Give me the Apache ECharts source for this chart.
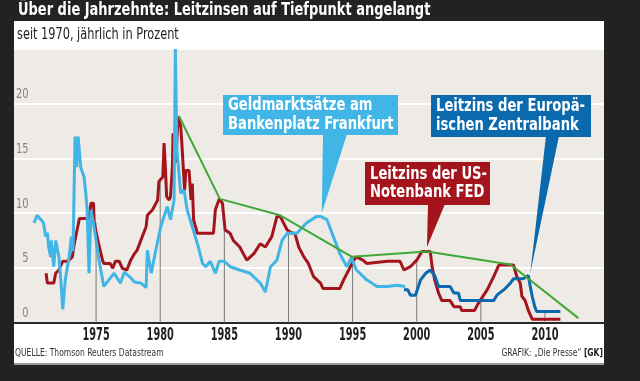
<!DOCTYPE html>
<html><head><meta charset="utf-8">
<script src="https://cdn.jsdelivr.net/npm/echarts@6/dist/echarts.min.js"></script>
<style>html,body{margin:0;padding:0;background:#222;}#c{width:640px;height:381px;}</style>
</head><body><div id="c"></div>
<script>
// ---- data ----
const xTicks = [1975, 1980, 1985, 1990, 1995, 2000, 2005, 2010];
const yTicks = [0, 5, 10, 15, 20];
const fedUS = [[1971.1,4.5],[1971.2,3.6],[1971.7,3.6],[1971.85,4.5],[1972.1,4.8],[1972.4,5.6],[1972.8,5.6],[1973.15,6.0],[1973.3,7.2],[1973.7,9.5],[1974.45,9.5],[1974.6,10.9],[1974.8,10.9],[1974.85,9.1],[1975.0,9.1],[1975.2,7.2],[1975.5,5.7],[1975.6,5.4],[1976.1,5.4],[1976.3,4.95],[1976.5,5.6],[1976.8,5.6],[1977.05,4.95],[1977.4,4.8],[1977.55,4.8],[1977.7,5.7],[1978.0,6.3],[1978.2,6.6],[1978.6,7.85],[1978.9,8.75],[1979.0,9.8],[1979.4,10.3],[1979.8,11.2],[1979.9,12.9],[1980.2,13.3],[1980.3,16.4],[1980.4,14.2],[1980.5,11.5],[1980.7,11.2],[1980.8,11.5],[1980.95,14.2],[1981.0,17.3],[1981.2,14.6],[1981.4,18.8],[1981.6,17.9],[1981.7,16.1],[1981.9,12.1],[1982.0,13.9],[1982.25,13.9],[1982.4,11.2],[1982.5,12.7],[1982.6,9.4],[1982.9,8.15],[1984.15,8.15],[1984.3,10.3],[1984.6,11.3],[1984.85,10.9],[1985.06,8.45],[1985.45,8.15],[1985.7,7.5],[1986.2,6.9],[1986.75,5.7],[1987.3,6.3],[1987.8,7.2],[1988.2,6.9],[1988.7,7.85],[1989.1,9.7],[1989.35,9.7],[1989.9,8.45],[1990.3,8.15],[1990.5,8.15],[1990.8,6.9],[1991.2,6.0],[1991.55,5.4],[1991.95,4.2],[1992.5,3.6],[1992.7,3.1],[1994.0,3.1],[1994.3,3.9],[1994.7,4.8],[1995.1,5.7],[1995.3,6.0],[1995.8,5.7],[1996.1,5.4],[1997.7,5.6],[1998.7,5.6],[1999.0,4.8],[1999.5,5.1],[2000.0,5.7],[2000.4,6.5],[2001.05,6.5],[2001.2,5.1],[2001.4,3.9],[2001.7,2.7],[2001.95,2.0],[2002.6,2.0],[2002.9,1.45],[2003.4,1.45],[2003.5,1.1],[2004.5,1.1],[2004.8,1.75],[2005.5,3.0],[2006.0,4.2],[2006.4,5.25],[2007.55,5.25],[2007.8,4.2],[2008.07,3.6],[2008.2,2.4],[2008.45,2.0],[2008.7,1.1],[2009.0,0.3],[2011.2,0.3]];
const frankfurt = [[1970.16,9.1],[1970.4,9.8],[1970.7,9.4],[1970.9,9.1],[1971.07,7.85],[1971.2,8.2],[1971.3,6.9],[1971.46,6.0],[1971.5,7.5],[1971.7,5.1],[1971.85,7.5],[1972.1,6.0],[1972.25,3.9],[1972.4,1.2],[1972.6,3.9],[1972.9,6.0],[1973.07,7.85],[1973.2,6.5],[1973.36,17.0],[1973.5,14.2],[1973.6,17.0],[1973.8,14.2],[1974.06,13.3],[1974.2,11.8],[1974.3,10.3],[1974.45,4.5],[1974.6,10.3],[1974.84,8.75],[1975.23,5.7],[1975.6,3.3],[1976.0,3.9],[1976.4,4.5],[1976.9,3.6],[1977.2,4.6],[1977.6,4.2],[1978.0,3.7],[1978.5,3.6],[1978.9,3.2],[1979.0,6.6],[1979.3,4.5],[1979.65,6.6],[1980.04,8.75],[1980.55,10.6],[1980.8,9.4],[1981.08,11.2],[1981.18,25],[1981.24,25],[1981.3,15.8],[1981.6,11.8],[1981.86,12.1],[1982.1,10.3],[1982.5,8.75],[1982.9,7.2],[1983.3,5.4],[1983.55,5.1],[1983.9,5.6],[1984.3,4.5],[1984.6,5.6],[1985.0,5.6],[1985.45,5.1],[1986.2,4.8],[1987.0,4.5],[1987.8,3.6],[1988.2,2.8],[1988.6,5.1],[1989.1,5.7],[1989.5,7.5],[1989.9,8.15],[1990.65,8.15],[1991.4,9.1],[1992.2,9.7],[1992.5,9.7],[1993.0,9.4],[1993.5,7.85],[1994.0,6.3],[1994.55,5.1],[1994.9,5.9],[1995.3,4.8],[1996.1,3.9],[1996.9,3.3],[1997.7,3.3],[1998.45,3.4],[1999.1,3.3]];
const ecb = [[1999.0,3.0],[1999.3,3.0],[1999.5,2.5],[1999.9,2.5],[2000.3,3.9],[2000.7,4.5],[2001.05,4.8],[2001.4,4.3],[2001.7,3.3],[2002.6,3.3],[2002.9,2.7],[2003.25,2.7],[2003.4,2.0],[2006.0,2.0],[2006.25,2.5],[2006.8,3.0],[2007.3,3.6],[2007.55,4.0],[2008.3,4.0],[2008.7,4.3],[2008.85,3.3],[2009.0,2.4],[2009.2,1.45],[2009.35,1.0],[2011.2,1.0]];
const trend = [[1981.45,18.9],[1984.65,11.3],[1989.35,9.8],[1994.95,6.0],[2000.8,6.5],[2007.3,5.3],[2012.6,0.4]];
const titleText = 'Über die Jahrzehnte: Leitzinsen auf Tiefpunkt angelangt';
const subtitleText = 'seit 1970, jährlich in Prozent';
const sourceText = 'QUELLE: Thomson Reuters Datastream';
const creditText = 'GRAFIK: „Die Presse“';
const creditTag = '[GK]';
const calloutLines = {
  frankfurt: ['Geldmarktsätze am', 'Bankenplatz Frankfurt'],
  fed: ['Leitzins der US-', 'Notenbank FED'],
  ecb: ['Leitzins der Europä-', 'ischen Zentralbank']
};
const calloutTips = { frankfurt: [1992.6, 10.0], fed: [2000.8, 6.9], ecb: [2008.85, 4.5] };

// helpers
function interp(s, x) {
  if (x < s[0][0] || x > s[s.length-1][0]) return null;
  for (let i = 1; i < s.length; i++) {
    if (s[i][0] >= x) {
      const a = s[i-1], b = s[i];
      const t = (x - a[0]) / ((b[0] - a[0]) || 1);
      return a[1] + t * (b[1] - a[1]);
    }
  }
  return null;
}
const dropTops = xTicks.map(yr => {
  const vals = [fedUS, frankfurt, ecb].map(s => interp(s, yr)).filter(v => v !== null);
  return [yr, Math.max.apply(null, vals)];
});

const FONT = "'DejaVu Sans Condensed','Liberation Sans Narrow',sans-serif";
const C_RED = '#a3141c', C_LB = '#41b5e5', C_DB = '#0b6aae', C_GR = '#3fa836';

const chart = echarts.init(document.getElementById('c'), null, {renderer: 'canvas'});
const option = {
  backgroundColor: '#222222',
  animation: false,
  grid: {left: 14, right: 36, top: 49, bottom: 58.5, show: true, backgroundColor: '#eeeae6', borderWidth: 0},
  xAxis: {
    type: 'value', min: 1968.6, max: 2014.6,
    splitLine: {show: false},
    axisTick: {show: false},
    axisLine: {show: true, onZero: false, lineStyle: {color: '#2a2a2a', width: 2}},
    axisLabel: {show: false}
  },
  yAxis: {
    type: 'value', min: 0, max: 25, interval: 5,
    axisLine: {show: false}, axisTick: {show: false},
    splitLine: {show: true, lineStyle: {color: '#ffffff', width: 2}},
    axisLabel: {show: false}
  },
  series: [
    {type: 'custom', z: 1, silent: true, data: dropTops,
     renderItem: (params, api) => {
       const p0 = api.coord([api.value(0), 0]);
       const p1 = api.coord([api.value(0), api.value(1)]);
       return {type: 'line', shape: {x1: p0[0], y1: p0[1], x2: p1[0], y2: p1[1]},
               style: {stroke: '#7a7a7a', lineWidth: 1}};
     }},
    // x tick labels, placed through the x scale
    {type: 'custom', z: 6, silent: true, clip: false, data: xTicks.map(v => [v, 0]),
     renderItem: (params, api) => {
       const p = api.coord([api.value(0), 0]);
       return {type: 'text', x: p[0], y: p[1] + 13.5, scaleX: 0.64,
               style: {text: String(api.value(0)), fill: '#1e1e1e', font: 'bold 17px ' + FONT, align: 'center', verticalAlign: 'middle'}};
     }},
    // y tick labels, placed through the y scale
    {type: 'custom', z: 6, silent: true, clip: false, data: yTicks.map(v => [1968.6, v]),
     renderItem: (params, api) => {
       const p = api.coord([api.value(0), api.value(1)]);
       return {type: 'text', x: p[0] + 14.5, y: p[1] - 2, scaleX: 0.78,
               style: {text: String(api.value(1)), fill: '#858585', font: '14px ' + FONT, align: 'right', verticalAlign: 'bottom'}};
     }},
    {name: 'FED', type: 'line', data: fedUS, showSymbol: false, z: 2,
     lineStyle: {color: C_RED, width: 3}},
    {name: 'Frankfurt', type: 'line', data: frankfurt, showSymbol: false, z: 3,
     lineStyle: {color: C_LB, width: 3}},
    {name: 'EZB', type: 'line', data: ecb, showSymbol: false, z: 4,
     lineStyle: {color: C_DB, width: 3}},
    {name: 'Trend', type: 'line', data: trend, showSymbol: false, z: 5,
     lineStyle: {color: C_GR, width: 2}}
  ]
};
chart.setOption(option);

function callout(lines, color, box, base, tipData) {
  const tip = chart.convertToPixel({gridIndex: 0}, tipData);
  const els = [
    {type: 'rect', shape: {x: box[0], y: box[1], width: box[2], height: box[3]}, style: {fill: color}, z: 20},
    {type: 'polygon', shape: {points: [[base[0], box[1] + box[3] - 1], [base[1], box[1] + box[3] - 1], tip]}, style: {fill: color}, z: 20}
  ];
  const lh = 18.5;
  const cy = box[1] + box[3] / 2;
  lines.forEach((t, i) => {
    els.push({type: 'text', x: box[0] + 5, y: cy + (i - (lines.length - 1) / 2) * lh, z: 21, scaleX: 0.86,
      style: {text: t, fill: '#fff', font: 'bold 17px ' + FONT, verticalAlign: 'middle', align: 'left'}});
  });
  return els;
}

const graphics = [
  {type: 'rect', shape: {x: 14, y: 21, width: 590, height: 342}, style: {fill: '#ffffff'}, z: -10, silent: true},
  {type: 'rect', shape: {x: 14, y: 363, width: 590, height: 2}, style: {fill: '#9a9a9a'}, z: -10, silent: true},
  {type: 'text', x: 18, y: 11, z: 10, scaleX: 0.85, style: {text: titleText, fill: '#fff', font: 'bold 17px ' + FONT, verticalAlign: 'middle'}},
  {type: 'text', x: 17, y: 35.5, z: 10, scaleX: 0.84, style: {text: subtitleText, fill: '#222', font: '15px ' + FONT, verticalAlign: 'middle'}},
  {type: 'text', x: 15, y: 353, z: 10, scaleX: 0.77, style: {text: sourceText, fill: '#333', font: '11px ' + FONT, verticalAlign: 'middle'}},
  {type: 'text', x: 603, y: 353, z: 10, scaleX: 0.77, style: {text: '{a|' + creditText + ' }{b|' + creditTag + '}', fill: '#333', align: 'right', verticalAlign: 'middle',
     rich: {a: {fontSize: 11, fontFamily: FONT, fill: '#333'}, b: {fontSize: 11, fontWeight: 'bold', fontFamily: FONT, fill: '#1e1e1e'}}}}
].concat(
  callout(calloutLines.frankfurt, C_LB, [223, 95, 175, 40], [323, 347], calloutTips.frankfurt),
  callout(calloutLines.fed, C_RED, [365, 162, 125, 43], [428, 445], calloutTips.fed),
  callout(calloutLines.ecb, C_DB, [431, 95, 160, 42], [546, 559], calloutTips.ecb)
);
chart.setOption({graphic: {elements: graphics}});
</script></body></html>
